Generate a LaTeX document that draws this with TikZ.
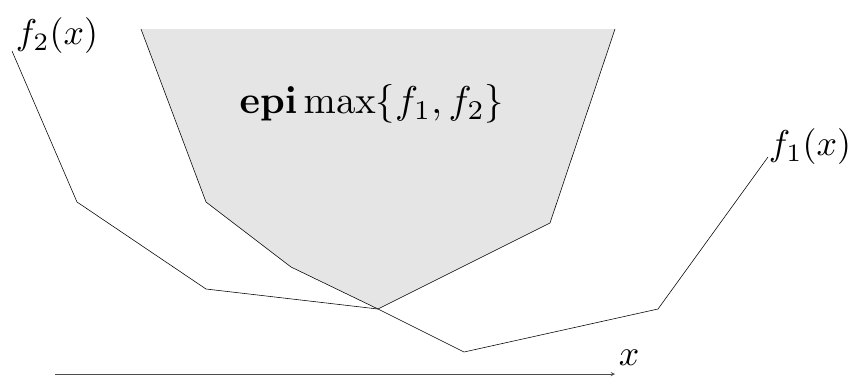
\documentclass[tikz,border=0pt]{standalone}
\usepackage{amsmath}
\begin{document}
\begin{tikzpicture}[x=0.025cm, y=-0.025cm]
    \useasboundingbox (0,0) rectangle (853,377);
    \tikzset{lbl/.style={scale=2.55, inner sep=0pt}}

    % 顶点
    \coordinate (p1) at (141,29);
    \coordinate (p2) at (206,202);
    \coordinate (p3) at (291,267);
    \coordinate (m)  at (378,309);
    \coordinate (p4) at (464,352);
    \coordinate (p5) at (658,309);
    \coordinate (p6) at (768,157);
    \coordinate (q1) at (12,51);
    \coordinate (q2) at (77,202);
    \coordinate (q3) at (206,289);
    \coordinate (q4) at (550,223);
    \coordinate (q5) at (615,29);

    % 上镜图 (阴影)
    \fill[gray!20] (p1) -- (p2) -- (p3) -- (m) -- (q4) -- (q5) -- cycle;

    % f1 与 f2
    \draw[thin] (p1) -- (p2) -- (p3) -- (m) -- (p4) -- (p5) -- (p6);
    \draw[thin] (q1) -- (q2) -- (q3) -- (m) -- (q4) -- (q5);

    % x 轴
    \draw[thin, black!70, -stealth] (55,374) -- (615,374);

    % 标注
    \node[lbl] at (57,36) {$f_2(x)$};
    \node[lbl] at (810,147) {$f_1(x)$};
    \node[lbl, scale=1.08] at (372,104) {$\mathbf{epi}\max\{f_1,f_2\}$};
    \node[lbl] at (629,358) {$x$};
\end{tikzpicture}
\end{document}
